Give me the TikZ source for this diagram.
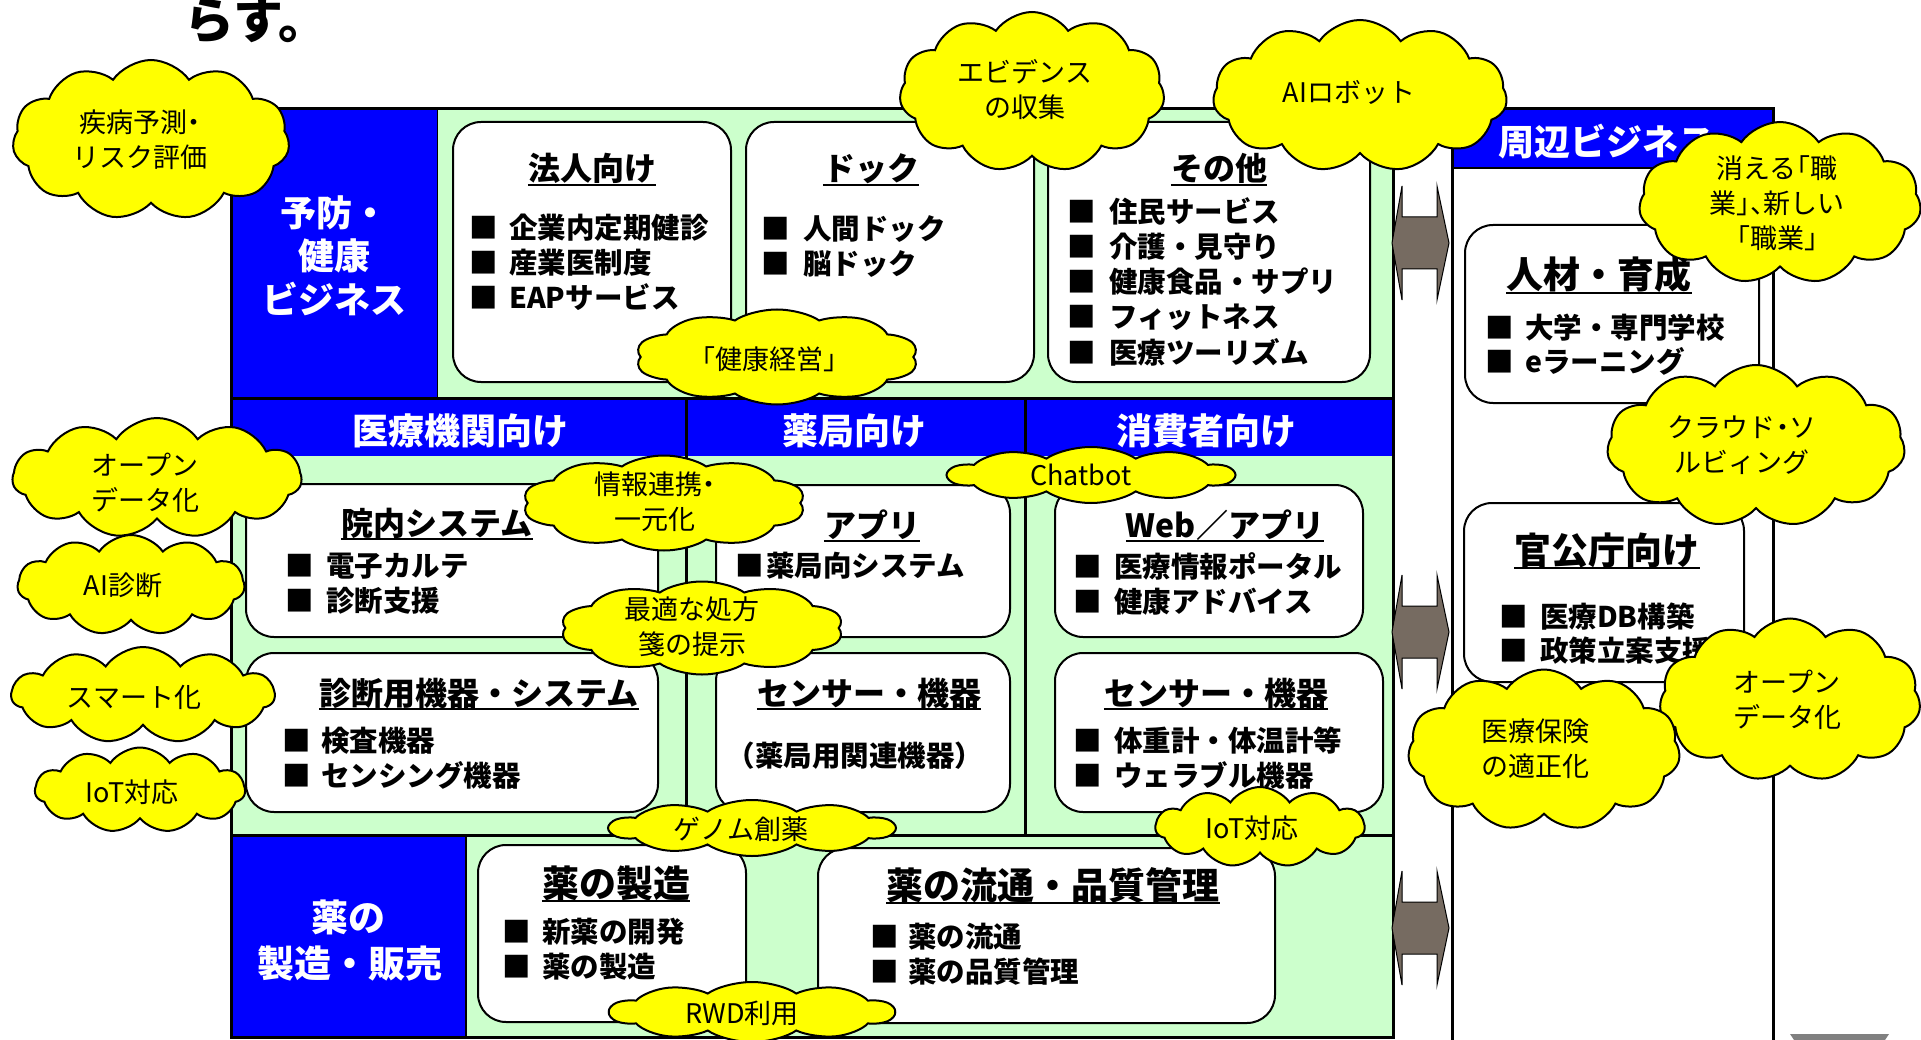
\documentclass[tikz,border=0pt]{standalone}
\usepackage{fontspec}
\setmainfont{Noto Sans CJK JP}
\newfontfamily\cfont{Noto Sans CJK JP}[RawFeature=+halt]
\usetikzlibrary{shapes.symbols}
\definecolor{cblue}{HTML}{0000FF}
\definecolor{cgreen}{HTML}{CCFFCC}
\definecolor{cyel}{HTML}{FFFF00}
\definecolor{carrow}{HTML}{766B61}
\tikzset{
 wbox/.style={draw=black, line width=2pt, fill=white, rounded corners=28pt, inner sep=0pt, outer sep=0pt},
 cl/.style={cloud, cloud puffs=11, cloud puff arc=110, cloud ignores aspect, draw=black, line width=2pt, fill=cyel, inner sep=0pt},
 ct/.style={font=\cfont\fontsize{27}{35}\selectfont, align=center, inner sep=0pt},
 hdr/.style={font=\bfseries\fontsize{36}{40}\selectfont, text=white, inner sep=0pt, anchor=base},
 ttl/.style={font=\bfseries\fontsize{32}{36}\selectfont, inner sep=0pt, anchor=base},
 ttlL/.style={font=\bfseries\fontsize{37}{40}\selectfont, inner sep=0pt, anchor=base},
 bt/.style={font=\bfseries\fontsize{28.5}{32}\selectfont, inner sep=0pt},
 uline/.style={line width=2pt},
 dbl/.style={draw=black, line width=1pt, fill=carrow},
 frame/.style={line width=3pt},
}
\newcommand\wb[5]{\node[wbox, minimum width=#4pt, minimum height=#5pt] (#1) at (#2,#3) {};}
\newcommand\ttlu[5]{\node[#1] (#2) at (#3,#4) {#5}; \draw[uline] ([yshift=-4pt]#2.base west) -- ([yshift=-4pt]#2.base east);}
\newcommand\bul[5]{\node[bt, anchor=base] (#1b) at (#2,#4) {■}; \node[bt, anchor=base west] (#1) at (#3,#4) {#5};}
\newcommand\cld[8]{\node[cl, minimum width=#4pt, minimum height=#5pt] (#1) at (#2,#3) {}; \node[ct] (#1t) at (#6,#7) {#8};}
% flat cloud: drawn twice as tall, then squashed to half height
\newcommand\fcld[8]{\begin{scope}[shift={(#2,#3)}, yscale=0.5]\node[cl, cloud puffs=10, transform shape, minimum width=#4pt, minimum height=2*#5pt] (#1) at (0,0) {};\end{scope} \node[ct] (#1t) at (#6,#7) {#8};}
\newcommand\dblarrow[2]{\draw[dbl] (1392,#2) -- (1402,#2-57) -- (1402,#2-26) -- (1437,#2-26) -- (1437,#2-57) -- (1449,#2) -- (1437,#2+57) -- (1437,#2+26) -- (1402,#2+26) -- (1402,#2+57) -- cycle;
 \coordinate (#1) at (1420,#2);}
\begin{document}
\begin{tikzpicture}[x=1pt,y=-1pt]
\useasboundingbox (0,0) rectangle (1921,1040);
\fill[white] (0,0) rectangle (1921,1040);
% title
\node[font=\bfseries\fontsize{50}{52}\selectfont, anchor=base west, inner sep=0pt] (title) at (184,39) {らす。};
% main frame
\fill[cgreen] (231.5,109) rectangle (1393,1037);
\fill[cblue] (231.5,109) rectangle (437,398);
\fill[cblue] (231.5,398) rectangle (1393,456);
\fill[cblue] (231.5,835) rectangle (466,1037);
\draw[line width=1pt] (437,109) -- (437,398);
\draw[line width=1.5pt] (466,835) -- (466,1037);
\draw[frame] (231.5,398) -- (1393,398);
\draw[frame] (231.5,835) -- (1393,835);
\draw[frame] (686,398) -- (686,835);
\draw[frame] (1025,398) -- (1025,835);
\draw[frame] (231.5,109) rectangle (1393,1037);
% right block
\draw[frame, fill=white] (1452,109) rectangle (1773,1048);
\fill[cblue] (1452,109) rectangle (1773,168);
\draw[frame] (1452,109) rectangle (1773,1048);
\draw[line width=2pt] (1452,168) -- (1773,168);
\fill[gray] (1790,1034) -- (1889,1034) -- (1885,1040) -- (1794,1040) -- cycle;
% arrows
\dblarrow{ar1}{243}
\dblarrow{ar2}{632}
\dblarrow{ar3}{928}
% white boxes
\wb{bHoujin}{592}{252}{278}{260}
\wb{bDock}{890}{252}{288}{260}
\wb{bSonota}{1209}{252}{322}{260}
\wb{bInnai}{452}{560.5}{412}{153}
\wb{bShindan}{452}{732.5}{412}{159}
\wb{bApuri}{863}{561}{294}{152}
\wb{bSensor1}{863}{732.5}{294}{159}
\wb{bWeb}{1209}{561}{308}{152}
\wb{bSensor2}{1219}{732.5}{328}{159}
\wb{bSeizou}{612}{933.5}{268}{177}
\wb{bRyutsu}{1046.5}{935.5}{457}{175}
\wb{bJinzai}{1612}{314}{294}{178}
\wb{bKankou}{1604}{592.5}{280}{179}
% headers
\node[hdr] (hY1) at (334,227) {予防・};
\node[hdr] (hY2) at (334,270) {健康};
\node[hdr] (hY3) at (334,314) {ビジネス};
\node[hdr] (hIryo) at (460,444) {医療機関向け};
\node[hdr] (hYakkyoku) at (854,444) {薬局向け};
\node[hdr] (hShohi) at (1206,444) {消費者向け};
\node[hdr] (hShuhen) at (1606,156) {周辺ビジネス};
\node[hdr, font=\bfseries\fontsize{37}{40}\selectfont] (hK1) at (348,931) {薬の};
\node[hdr, font=\bfseries\fontsize{37}{40}\selectfont] (hK2) at (350,977) {製造・販売};
% row 1
\ttlu{ttl}{tHoujin}{592}{181}{法人向け}
\bul{h1}{483.5}{509}{239}{企業内定期健診}
\bul{h2}{483.5}{509}{274}{産業医制度}
\bul{h3}{483.5}{509}{309}{EAPサービス}
\ttlu{ttl}{tDock}{871}{181}{ドック}
\bul{d1}{776}{803}{240}{人間ドック}
\bul{d2}{776}{803}{275}{脳ドック}
\ttlu{ttl}{tSonota}{1219}{181}{その他}
\bul{s1}{1082}{1109}{223}{住民サービス}
\bul{s2}{1082}{1109}{258}{介護・見守り}
\bul{s3}{1082}{1109}{293}{健康食品・サプリ}
\bul{s4}{1082}{1109}{328}{フィットネス}
\bul{s5}{1082}{1109}{363}{医療ツーリズム}
% row 2
\ttlu{ttl}{tInnai}{437}{535}{院内システム}
\bul{i1}{300}{326}{576}{電子カルテ}
\bul{i2}{300}{326}{611}{診断支援}
\ttlu{ttl}{tShindan}{479}{705}{診断用機器・システム}
\bul{k1}{297}{321}{751}{検査機器}
\bul{k2}{297}{321}{786}{センシング機器}
\ttlu{ttl}{tApuri}{872}{537}{アプリ}
\bul{a1}{750}{766}{576}{薬局向システム}
\ttlu{ttl}{tSensorA}{869}{705}{センサー・機器}
\node[bt, anchor=base] (p1) at (855,766) {（薬局用関連機器）};
\ttlu{ttl}{tWeb}{1225}{537}{Web／アプリ}
\bul{w1}{1088}{1114}{577}{医療情報ポータル}
\bul{w2}{1088}{1114}{612}{健康アドバイス}
\ttlu{ttl}{tSensorB}{1216}{705}{センサー・機器}
\bul{e1}{1088}{1114}{751}{体重計・体温計等}
\bul{e2}{1088}{1114}{786}{ウェラブル機器}
% row 3
\ttlu{ttlL}{tSeizou}{616}{897}{薬の製造}
\bul{m1}{517}{542}{942}{新薬の開発}
\bul{m2}{517}{542}{977}{薬の製造}
\ttlu{ttlL}{tRyutsu}{1053}{899}{薬の流通・品質管理}
\bul{r1}{885}{908}{947}{薬の流通}
\bul{r2}{885}{908}{982}{薬の品質管理}
% right
\ttlu{ttlL}{tJinzai}{1599}{289}{人材・育成}
\bul{j1}{1500}{1525}{338}{大学・専門学校}
\bul{j2}{1500}{1525}{372}{eラーニング}
\ttlu{ttlL}{tKankou}{1607}{564}{官公庁向け}
\bul{g1}{1514}{1540}{627}{医療DB構築}
\bul{g2}{1514}{1540}{661}{政策立案支援}
% clouds
\cld{cYobo}{151}{140}{277}{160}{140}{140}{疾病予測・\\リスク評価}
\cld{cEvid}{1032}{92}{265}{160}{1025}{90}{エビデンス\\の収集}
\cld{cAIr}{1360}{96}{294}{152}{1349}{92}{AIロボット}
\fcld{cKK}{777}{357}{284}{95}{769}{359}{「健康経営」}
\cld{cKieru}{1780}{203}{282}{162}{1777}{203}{消える「職\\業」、新しい\\「職業」}
\cld{cCloud}{1756}{446}{298}{162}{1742}{445}{クラウド・ソ\\ルビィング}
\cld{cOpenL}{157}{478}{289}{120}{145}{483}{オープン\\データ化}
\cld{cAI}{131}{585}{227}{100}{123}{585}{AI診断}
\cld{cSmart}{143}{695}{263}{96}{134}{697}{スマート化}
\cld{cIoTL}{140}{790}{210}{85}{132}{792}{IoT対応}
\fcld{cJoho}{664}{503}{284}{95}{655}{502}{情報連携・\\一元化}
\fcld{cSaiteki}{702}{628}{284}{93}{692}{627}{最適な処方\\箋の提示}
\fcld{cChat}{1091}{475}{286}{56}{1081}{475}{Chatbot}
\fcld{cGenome}{752}{828}{285}{56}{741}{829}{ゲノム創薬}
\cld{cIoTC}{1260}{827}{209}{80}{1252}{828}{IoT対応}
\fcld{cRWD}{752}{1012}{285}{60}{742}{1013}{RWD利用}
\cld{cOpenR}{1790}{700}{261}{163}{1787}{700}{オープン\\データ化}
\cld{cHoken}{1544}{750}{272}{161}{1535}{749}{医療保険\\の適正化}
\end{tikzpicture}
\end{document}
